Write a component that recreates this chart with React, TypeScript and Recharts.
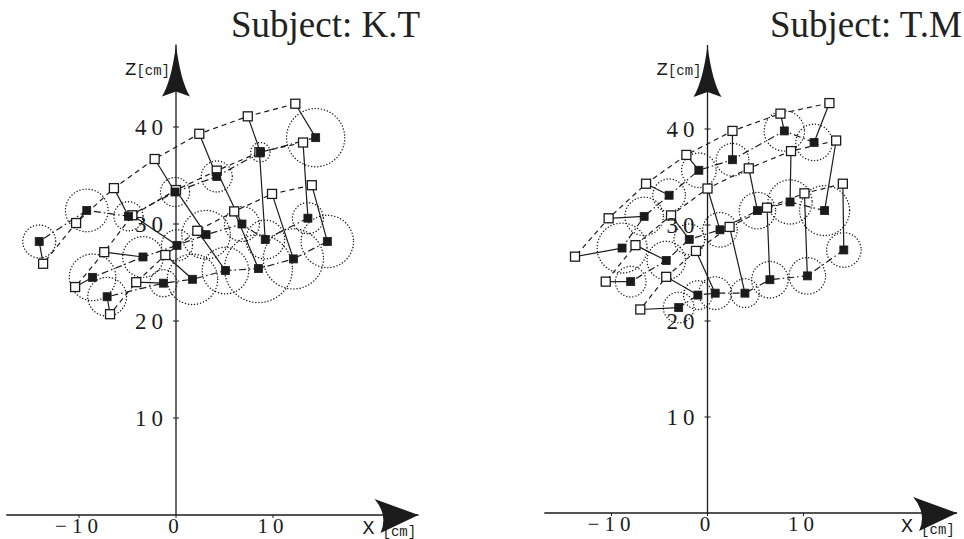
import React from "react";
import { ScatterChart, Scatter, XAxis, YAxis, ReferenceLine } from "recharts";

type Pt = [number, number];

// Subject K.T : target (open) and measured (filled) positions, [x, z] in cm
const ktTargetA: Pt[] = [[12.3, 42.4], [7.4, 41.1], [2.4, 39.3], [-2.2, 36.7], [-6.4, 33.7], [-10.3, 30.1], [-13.7, 25.9]];
const ktTargetB: Pt[] = [[13.1, 38.4], [8.6, 37.4], [4.2, 35.5], [0.0, 33.5], [-4.5, 30.9], [-7.4, 27.1], [-10.4, 23.5]];
const ktTargetC: Pt[] = [[14.0, 34.0], [9.9, 33.1], [6.0, 31.3], [2.2, 29.3], [-1.1, 26.8], [-4.1, 24.0], [-6.8, 20.7]];
const ktMeasA: Pt[] = [[14.4, 38.9], [8.7, 37.4], [4.2, 34.9], [-0.1, 33.3], [-4.9, 30.8], [-9.2, 31.4], [-14.1, 28.2]];
const ktMeasB: Pt[] = [[13.6, 30.6], [9.2, 28.4], [6.8, 30.0], [3.1, 28.9], [0.1, 27.8], [-3.4, 26.6], [-8.6, 24.5]];
const ktMeasC: Pt[] = [[15.6, 28.2], [12.1, 26.4], [8.5, 25.4], [5.1, 25.2], [1.7, 24.3], [-1.3, 23.9], [-7.1, 22.5]];
// spread circles (radius, cm)
const ktSpreadA = [3.0, 1.0, 1.6, 1.5, 1.5, 2.2, 1.7];
const ktSpreadB = [1.6, 2.0, 1.8, 2.5, 1.6, 2.1, 2.4];
const ktSpreadC = [2.7, 3.1, 3.5, 2.4, 2.6, 1.4, 2.0];

// Subject T.M
const tmTargetA: Pt[] = [[12.7, 42.7], [7.6, 41.6], [2.6, 39.8], [-2.2, 37.3], [-6.4, 34.3], [-10.3, 30.7], [-13.8, 26.7]];
const tmTargetB: Pt[] = [[13.4, 38.8], [8.7, 37.7], [4.3, 35.9], [0.0, 33.8], [-3.8, 31.0], [-7.5, 27.9], [-10.6, 24.1]];
const tmTargetC: Pt[] = [[14.1, 34.3], [10.1, 33.3], [6.2, 31.8], [2.3, 29.8], [-1.2, 27.3], [-4.3, 24.6], [-7.0, 21.2]];
const tmMeasA: Pt[] = [[11.1, 38.6], [8.0, 39.8], [2.6, 36.8], [-0.9, 35.7], [-4.0, 33.1], [-6.6, 30.9], [-8.9, 27.6]];
const tmMeasB: Pt[] = [[12.2, 31.5], [8.6, 32.4], [5.2, 31.5], [1.3, 29.5], [-1.9, 28.5], [-4.3, 26.3], [-8.0, 24.1]];
const tmMeasC: Pt[] = [[14.2, 27.4], [10.4, 24.7], [6.5, 24.3], [3.9, 22.9], [0.8, 22.9], [-1.0, 22.7], [-3.0, 21.4]];
const tmSpreadA = [1.9, 2.1, 1.7, 1.8, 1.7, 2.0, 2.6];
const tmSpreadB = [2.6, 2.3, 1.9, 1.8, 1.6, 2.0, 1.6];
const tmSpreadC = [1.8, 1.9, 1.9, 1.5, 1.7, 1.5, 1.6];

const xTicks = [-10, 0, 10];
const zTicks = [10, 20, 30, 40];

const INK = "#1b1b1b";
const SERIF = "'Liberation Serif', 'Times New Roman', serif";
const MONO = "'Liberation Mono', 'Courier New', monospace";

const toRows = (pts: Pt[], spread?: number[]) =>
  pts.map(([x, y], i) => ({ x, y, r: spread ? spread[i] : 0 }));

const Blank = () => <g />;
const OpenSquare = (p: any) => (
  <rect x={p.cx - 4.5} y={p.cy - 4.5} width={9} height={9} fill="#fff" stroke={INK} strokeWidth={1.3} />
);
const FilledSquare = (p: any) => (
  <rect x={p.cx - 4} y={p.cy - 4} width={8} height={8} fill={INK} stroke={INK} strokeWidth={0.8} />
);

type PanelProps = {
  title: string;
  titleX: number;
  left: number;
  plotLeft: number;
  plotBottom: number;
  scale: number;
  xDomain: [number, number];
  zMax: number;
  targets: Pt[][];
  meas: Pt[][];
  spreads: number[][];
};

function Panel({ title, titleX, left, plotLeft, plotBottom, scale, xDomain, zMax, targets, meas, spreads }: PanelProps) {
  const W = 482;
  const H = 539;
  const mLeft = plotLeft - left;
  const plotW = (xDomain[1] - xDomain[0]) * scale;
  const mTop = plotBottom - zMax * scale;

  const SpreadCircle = (p: any) => (
    <circle cx={p.cx} cy={p.cy} r={p.payload.r * scale} fill="none" stroke={INK} strokeWidth={1.4}
      strokeDasharray="0.1 3" strokeLinecap="round" />
  );
  const ZTick = (p: any) => (
    <g>
      <line x1={p.cx - 3} x2={p.cx + 3} y1={p.cy} y2={p.cy} stroke={INK} strokeWidth={1} />
      <text x={p.cx - 8} y={p.cy} dy="0.35em" textAnchor="end" fontFamily={SERIF} fontSize={23}
        letterSpacing={5} fill={INK}>{String(p.payload.y)}</text>
    </g>
  );
  const ZArrow = (p: any) => {
    const { cx, cy } = p;
    return (
      <g>
        <path d={`M${cx},${cy} C${cx + 3},${cy + 25} ${cx + 8},${cy + 42} ${cx + 14},${cy + 52} L${cx},${cy + 47} L${cx - 14},${cy + 52} C${cx - 8},${cy + 42} ${cx - 3},${cy + 25} ${cx},${cy} Z`} fill={INK} />
        <text x={cx - 6} y={cy + 30} textAnchor="end" fontFamily={MONO} fill={INK}>
          <tspan fontSize={19}>Z</tspan>
          <tspan fontSize={14}>[cm]</tspan>
        </text>
      </g>
    );
  };
  const XArrow = (p: any) => {
    const { cx, cy } = p;
    return (
      <g>
        <path d={`M${cx},${cy} L${cx - 44},${cy - 16} Q${cx - 30},${cy} ${cx - 38},${cy + 18} Z`} fill={INK} />
        <text x={cx - 56} y={cy + 19} fontFamily={MONO} fontSize={20} fill={INK}>X</text>
        <text x={cx - 36} y={cy + 21} fontFamily={MONO} fontSize={14} fill={INK}>[cm]</text>
      </g>
    );
  };

  return (
    <div style={{ position: "absolute", left, top: 0, width: W, height: H }}>
      <div style={{ position: "absolute", left: titleX - left, top: 6, fontFamily: SERIF, fontSize: 37, lineHeight: "37px", color: "#222", whiteSpace: "nowrap" }}>
        {title}
      </div>
      <ScatterChart width={W} height={H} margin={{ top: mTop, left: mLeft, right: W - mLeft - plotW, bottom: 0 }}>
        <XAxis type="number" dataKey="x" domain={xDomain} ticks={xTicks} height={H - plotBottom}
          tickSize={3} tickMargin={0} axisLine={{ stroke: INK, strokeWidth: 1.5 }} tickLine={{ stroke: INK }}
          tick={{ fill: INK, fontFamily: SERIF, fontSize: 21, letterSpacing: 5 }}
          tickFormatter={(v: number) => (v < 0 ? `\u2212${-v}` : String(v))} />
        <YAxis type="number" dataKey="y" domain={[0, zMax]} hide />
        <ReferenceLine x={0} stroke={INK} strokeWidth={1.3} />

        {meas.map((row, i) => (
          <Scatter key={`c${i}`} data={toRows(row, spreads[i])} shape={SpreadCircle} isAnimationActive={false} />
        ))}
        {targets.map((row, i) => (
          <Scatter key={`tl${i}`} data={toRows(row)} shape={Blank} isAnimationActive={false}
            line={{ stroke: INK, strokeWidth: 1.2, strokeDasharray: "5 4" }} lineType="joint" />
        ))}
        {meas.map((row, i) => (
          <Scatter key={`ml${i}`} data={toRows(row)} shape={Blank} isAnimationActive={false}
            line={{ stroke: INK, strokeWidth: 1.2, strokeDasharray: "7 3 1.5 3" }} lineType="joint" />
        ))}
        {targets.flatMap((row, i) =>
          row.map((t, j) => (
            <Scatter key={`p${i}-${j}`} data={toRows([t, meas[i][j]])} shape={Blank} isAnimationActive={false}
              line={{ stroke: INK, strokeWidth: 1.2 }} lineType="joint" />
          ))
        )}
        {targets.map((row, i) => (
          <Scatter key={`t${i}`} data={toRows(row)} shape={OpenSquare} isAnimationActive={false} />
        ))}
        {meas.map((row, i) => (
          <Scatter key={`m${i}`} data={toRows(row)} shape={FilledSquare} isAnimationActive={false} />
        ))}
        <Scatter data={zTicks.map((t) => ({ x: 0, y: t }))} shape={ZTick} isAnimationActive={false} />
        <Scatter data={[{ x: 0, y: zMax }]} shape={ZArrow} isAnimationActive={false} />
        <Scatter data={[{ x: xDomain[1], y: 0 }]} shape={XArrow} isAnimationActive={false} />
      </ScatterChart>
    </div>
  );
}

export default function App() {
  return (
    <div style={{ position: "absolute", left: 0, top: 0, width: 964, height: 539, background: "#fff", overflow: "hidden" }}>
      <Panel title="Subject: K.T" titleX={231} left={0} plotLeft={6.25} plotBottom={515} scale={9.7}
        xDomain={[-17.5, 25]} zMax={48.5}
        targets={[ktTargetA, ktTargetB, ktTargetC]} meas={[ktMeasA, ktMeasB, ktMeasC]}
        spreads={[ktSpreadA, ktSpreadB, ktSpreadC]} />
      <Panel title="Subject: T.M" titleX={770} left={482} plotLeft={544.3} plotBottom={513} scale={9.6}
        xDomain={[-17, 26]} zMax={48.75}
        targets={[tmTargetA, tmTargetB, tmTargetC]} meas={[tmMeasA, tmMeasB, tmMeasC]}
        spreads={[tmSpreadA, tmSpreadB, tmSpreadC]} />
    </div>
  );
}
